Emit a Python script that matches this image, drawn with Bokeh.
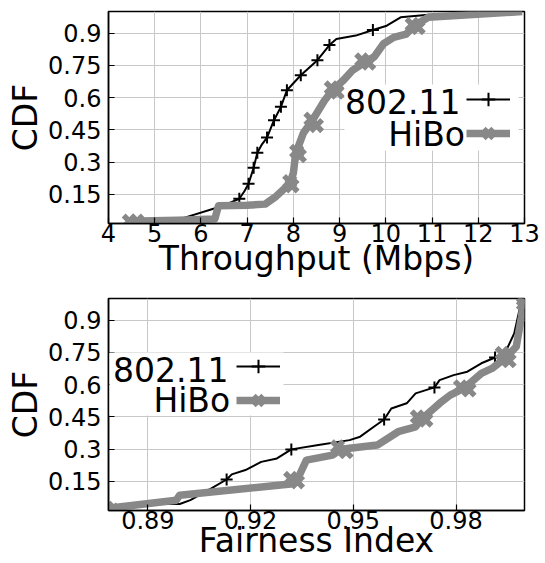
from bokeh.plotting import figure
from bokeh.layouts import column
from bokeh.models import (Legend, LegendItem, Label, BoxAnnotation, FixedTicker, Range1d)
from bokeh.core.properties import value
from bokeh.embed import file_html
from bokeh.resources import INLINE

# ---------------- data ----------------
# Top: throughput CDF
thr_80211_x = [4.45, 5.51, 6.34, 6.56, 6.83, 6.94, 7.03, 7.14, 7.22, 7.32, 7.43, 7.58, 7.73, 7.86, 7.95,
               8.16, 8.52, 8.78, 8.93, 9.35, 9.72, 10.02, 10.32, 10.92, 12.95]
thr_80211_y = [0.02, 0.033, 0.088, 0.105, 0.13, 0.165, 0.2, 0.274, 0.344, 0.383, 0.414, 0.495, 0.557, 0.634, 0.655,
               0.704, 0.774, 0.844, 0.872, 0.888, 0.914, 0.934, 0.973, 0.985, 1.0]
thr_80211_mx = [6.83, 7.03, 7.14, 7.22, 7.43, 7.58, 7.73, 7.86, 8.16, 8.52, 8.78, 9.72]
thr_80211_my = [0.13, 0.2, 0.274, 0.344, 0.414, 0.495, 0.557, 0.634, 0.704, 0.774, 0.844, 0.914]

thr_hibo_x = [4.46, 5.5, 6.3, 6.38, 7.0, 7.39, 7.62, 7.92, 8.0, 8.05, 8.22, 8.4, 8.67, 8.85, 9.08, 9.27,
              9.55, 9.75, 9.95, 10.17, 10.44, 10.62, 10.92, 12.95]
thr_hibo_y = [0.026, 0.03, 0.036, 0.098, 0.1, 0.105, 0.14, 0.2, 0.25, 0.34, 0.437, 0.49, 0.585, 0.635, 0.68, 0.725,
              0.765, 0.79, 0.85, 0.88, 0.895, 0.935, 0.973, 1.0]
thr_hibo_mx = [4.45, 4.62, 7.92, 7.97, 8.07, 8.13, 8.38, 8.5, 8.82, 8.95, 9.48, 9.63, 10.57, 10.7]
thr_hibo_my = [0.026, 0.026, 0.21, 0.19, 0.35, 0.33, 0.5, 0.47, 0.645, 0.625, 0.775, 0.76, 0.94, 0.925]

# Bottom: fairness CDF
fi_80211_x = [0.879, 0.8932, 0.8993, 0.9024, 0.9084, 0.913, 0.9145, 0.9185, 0.9231, 0.9277, 0.9319, 0.9398,
              0.9489, 0.952, 0.956, 0.959, 0.9611, 0.9656, 0.9682, 0.9737, 0.9752, 0.9793, 0.9833, 0.9874,
              0.9914, 0.9945, 0.997, 0.9985, 0.9995]
fi_80211_y = [0.02, 0.045, 0.045, 0.063, 0.117, 0.159, 0.183, 0.203, 0.241, 0.257, 0.299, 0.319, 0.342, 0.358,
              0.404, 0.438, 0.489, 0.513, 0.559, 0.587, 0.621, 0.644, 0.66, 0.699, 0.726, 0.753, 0.838, 0.946, 0.993]
fi_80211_mx = [0.913, 0.9319, 0.959, 0.9737, 0.9914]
fi_80211_my = [0.159, 0.299, 0.438, 0.587, 0.726]

fi_hibo_x = [0.878, 0.8983, 0.8993, 0.9317, 0.9337, 0.9363, 0.9439, 0.9465, 0.957, 0.9631, 0.9682, 0.97,
             0.9752, 0.9783, 0.9825, 0.9874, 0.9905, 0.9945, 0.9976, 0.9991, 0.9997]
fi_hibo_y = [0.0245, 0.063, 0.086, 0.138, 0.16, 0.249, 0.272, 0.3, 0.319, 0.381, 0.404, 0.44, 0.513, 0.551,
             0.585, 0.652, 0.675, 0.725, 0.776, 0.915, 0.993]
fi_hibo_mx = [0.878, 0.8795, 0.9317, 0.9337, 0.9454, 0.9479, 0.9687, 0.9712, 0.9813, 0.9838, 0.9935, 0.9955,
              0.9997, 0.9997]
fi_hibo_my = [0.0245, 0.017, 0.164, 0.148, 0.311, 0.288, 0.45, 0.435, 0.59, 0.575, 0.745, 0.711, 0.995, 0.975]

y_ticks = [0.15, 0.3, 0.45, 0.6, 0.75, 0.9]
y_tick_labels = ["0.15", "0.3", "0.45", "0.6", "0.75", "0.9"]
thr_ticks = [4, 5, 6, 7, 8, 9, 10, 11, 12, 13]
thr_tick_labels = ["4", "5", "6", "7", "8", "9", "10", "11", "12", "13"]
fi_ticks = [0.89, 0.92, 0.95, 0.98]
fi_tick_labels = ["0.89", "0.92", "0.95", "0.98"]
series_names = ["802.11", "HiBo"]

FONT = "DejaVu Sans"
GRAY = "#888888"
FW, FH = 416, 212


def make_fig(xr, yr, xticks, xlabels, xlabel, mb_left, mb_top, mb_bottom, mb_right, xlabel_standoff):
    p = figure(output_backend="svg", toolbar_location=None,
               frame_width=FW, frame_height=FH,
               x_range=Range1d(*xr), y_range=Range1d(*yr),
               min_border_left=mb_left, min_border_top=mb_top,
               min_border_bottom=mb_bottom, min_border_right=mb_right,
               background_fill_color="white", border_fill_color="white")
    p.outline_line_color = "black"
    p.outline_line_width = 1.5
    p.outline_line_alpha = 1
    p.xaxis.ticker = FixedTicker(ticks=xticks)
    p.yaxis.ticker = FixedTicker(ticks=y_ticks)
    p.xaxis.major_label_overrides = {t: l for t, l in zip(xticks, xlabels)}
    p.yaxis.major_label_overrides = {t: l for t, l in zip(y_ticks, y_tick_labels)}
    p.xaxis.axis_label = xlabel
    p.yaxis.axis_label = "CDF"
    for ax in (p.xaxis[0], p.yaxis[0]):
        ax.axis_label_text_font = FONT
        ax.axis_label_text_font_size = "33px"
        ax.axis_label_text_font_style = "normal"
        ax.axis_label_text_color = "black"
        ax.major_label_text_font = FONT
        ax.major_label_text_font_size = "24px"
        ax.major_label_text_color = "black"
        ax.major_tick_in = 6
        ax.major_tick_out = 0
        ax.minor_tick_in = 0
        ax.minor_tick_out = 0
        ax.axis_line_color = "black"
        ax.axis_line_width = 1.5
        ax.major_tick_line_color = "black"
        ax.major_tick_line_width = 1.2
    p.xaxis.major_label_standoff = 0
    p.xaxis.axis_label_standoff = xlabel_standoff
    p.yaxis.major_label_standoff = 7
    p.yaxis.axis_label_standoff = 0
    p.grid.grid_line_color = "#c8c8c8"
    p.grid.grid_line_width = 1
    p.xgrid.ticker = FixedTicker(ticks=xticks)
    p.ygrid.ticker = FixedTicker(ticks=y_ticks)
    return p


def draw(p, wx, wy, wmx, wmy, hx, hy, hmx, hmy):
    rwl = p.line(wx, wy, line_color="black", line_width=2)
    rwm = p.scatter(wmx, wmy, marker="cross", size=12, line_color="black", line_width=2)
    rhl = p.line(hx, hy, line_color=GRAY, line_width=7.5, line_join="round")
    rhm = p.scatter(hmx, hmy, marker="x", size=16, line_color=GRAY, line_width=5.5)
    return (rwl, rwm), (rhl, rhm)


def add_legend(p, xr, yr, box, texts, leg_loc, spacing, rends):
    # helpers: convert frame-relative pixels (from top-left) into data coords
    def fx(px):
        return xr[0] + px / FW * (xr[1] - xr[0])

    def fy(py):
        return yr[1] - py / FH * (yr[1] - yr[0])

    bl, br, bt, bb = box
    p.add_layout(BoxAnnotation(left=fx(bl), right=fx(br), top=fy(bt), bottom=fy(bb),
                               fill_color="white", fill_alpha=1.0, line_alpha=0))
    for name, (tx, ty) in zip(series_names, texts):
        p.add_layout(Label(x=fx(tx), y=fy(ty), text=name, text_align="right", text_baseline="middle",
                           text_font=FONT, text_font_size="33px", text_color="black"))
    items = [LegendItem(label=value(" "), renderers=list(r)) for r in rends]
    leg = Legend(items=items, location=leg_loc, glyph_width=44, glyph_height=34, label_height=20,
                 label_width=0, label_standoff=0, padding=0, margin=0, spacing=spacing,
                 background_fill_alpha=0, border_line_alpha=0, label_text_font_size="2px")
    p.add_layout(leg)


# ---- top figure ----
thr_xr = (4, 13)
yr = (0.015, 1.0)
p1 = make_fig(thr_xr, yr, thr_ticks, thr_tick_labels, "Throughput (Mbps)", 108, 11, 62, 21, -6)
w1, h1 = draw(p1, thr_80211_x, thr_80211_y, thr_80211_mx, thr_80211_my,
              thr_hibo_x, thr_hibo_y, thr_hibo_mx, thr_hibo_my)
add_legend(p1, thr_xr, yr, box=(236, 410, 73, 139), texts=[(352, 89.5), (356.5, 122.5)],
           leg_loc=(358, 73), spacing=-1, rends=[w1, h1])

# ---- bottom figure ----
fi_xr = (0.8785, 1.0)
p2 = make_fig(fi_xr, yr, fi_ticks, fi_tick_labels, "Fairness Index", 103, 13, 52, 26, -11)
w2, h2 = draw(p2, fi_80211_x, fi_80211_y, fi_80211_mx, fi_80211_my,
              fi_hibo_x, fi_hibo_y, fi_hibo_mx, fi_hibo_my)
add_legend(p2, fi_xr, yr, box=(1, 175, 54, 117), texts=[(120, 71), (121.7, 102)],
           leg_loc=(128, 93), spacing=-3, rends=[w2, h2])

layout = column(p1, p2, spacing=0)
open("out.html", "w").write(file_html(layout, INLINE))
